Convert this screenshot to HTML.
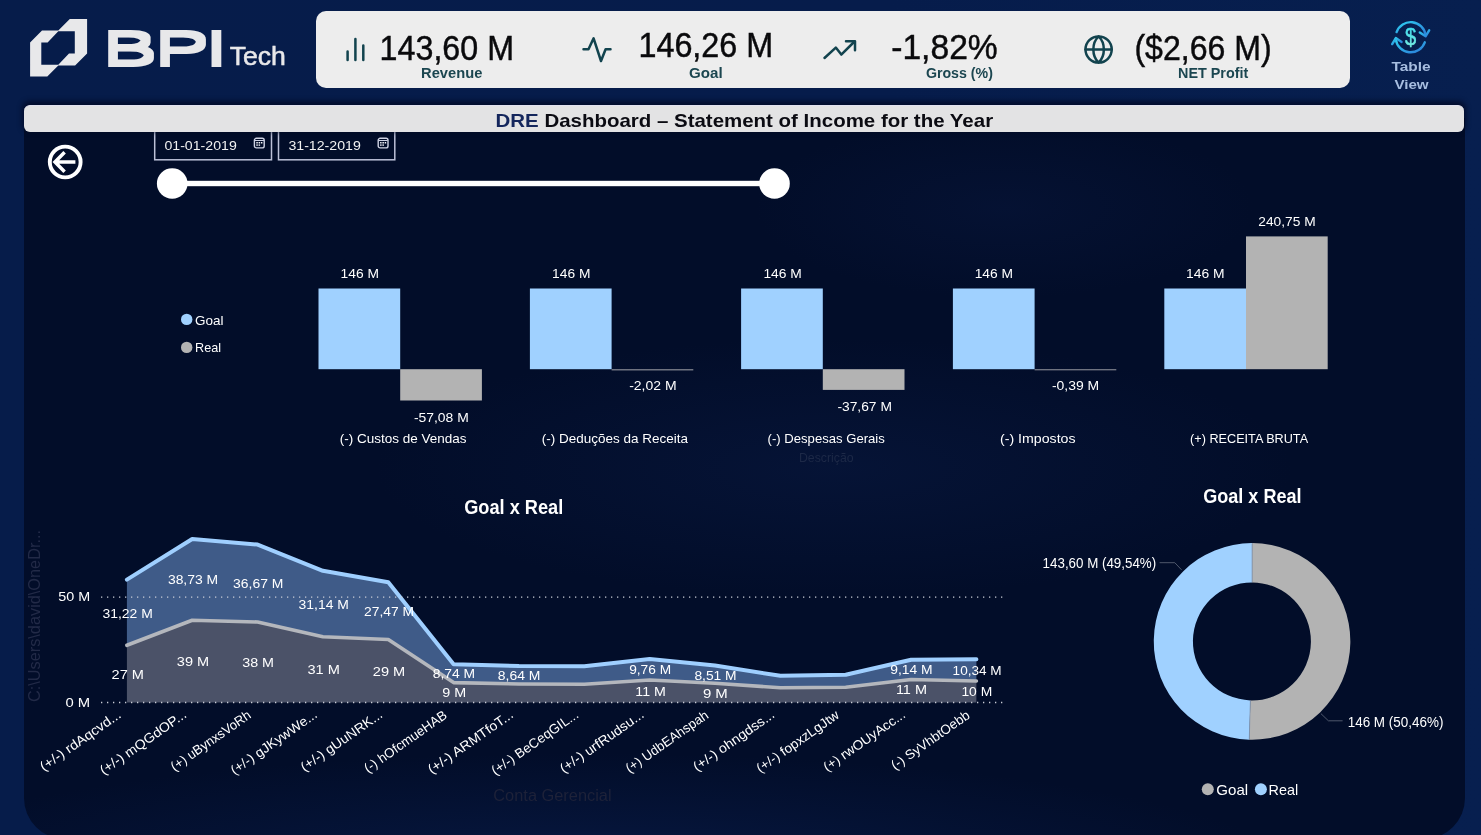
<!DOCTYPE html>
<html lang="pt-BR">
<head>
<meta charset="utf-8">
<title>DRE Dashboard – Statement of Income for the Year</title>
<style>
*{box-sizing:border-box;margin:0;padding:0}
html,body{width:1481px;height:835px;overflow:hidden}
body{position:relative;background:linear-gradient(90deg,#061c4a 0%,#061c4b 60%,#071f4f 100%);font-family:"Liberation Sans",sans-serif;color:#fff}
svg{position:absolute;left:0;top:0;overflow:visible}
svg text{font-family:"Liberation Sans",sans-serif;white-space:pre}
.abs{position:absolute}
#panel{left:24px;top:118px;width:1441px;height:721px;border-radius:0 0 41px 41px;background:radial-gradient(ellipse 720px 125px at 560px 760px,rgba(18,48,116,.6) 0%,rgba(12,36,92,.3) 40%,rgba(8,26,70,0) 100%),radial-gradient(ellipse 460px 130px at 810px 350px,rgba(16,38,92,.26) 0%,rgba(10,28,72,0) 100%),radial-gradient(ellipse 250px 90px at 980px 90px,rgba(14,32,80,.25) 0%,rgba(10,28,72,0) 100%),#020d29}
#kpis{left:316px;top:11px;width:1034px;height:77px;border-radius:10px;background:#ededed}
#titlebar{z-index:5;left:24px;top:105px;width:1440px;height:27px;border-radius:6px;background:#e3e3e4;border-top:1px solid #e2e2f0;box-shadow:0 -2px 5px 2px rgba(2,10,38,.8)}
</style>
</head>
<body>

<header class="abs" id="brand" style="left:0;top:0;width:316px;height:100px">
<svg width="316" height="100" viewBox="0 0 316 100">
<path fill="#e8e8ea" fill-rule="evenodd" d="M30.1 42.6 L42 30.6 L58.3 30.6 L69.8 19.1 L87.1 19.1 L87.1 53.6 L75.1 65.6 L58.3 65.6 L47.3 76.6 L30.1 76.6 Z M41.3 42.4 L47.6 42.4 L58.3 31.3 L74.8 31.3 L74.8 53.6 L69 53.6 L58.3 64.8 L41.3 64.8 Z"/>
<defs><filter id="fat" x="-5%" y="-10%" width="110%" height="120%"><feMorphology operator="dilate" radius="1 2"/></filter></defs>
<g id="bpi" filter="url(#fat)" fill="#e8e8ea"><text transform="translate(102.4,64.8) scale(1.74,1)" font-size="47.2"><tspan x="0">B</tspan><tspan x="30.0">P</tspan><tspan x="58.9">I</tspan></text></g>
<text x="229.7" y="65.2" font-size="25.5" textLength="56.2" lengthAdjust="spacingAndGlyphs" fill="#e8e8ea" stroke="#e8e8ea" stroke-width="0.5">Tech</text>
</svg></header>
<section class="abs" id="kpis">
<svg width="1034" height="77" viewBox="316 11 1034 77">
<g stroke="#12434e" stroke-width="2.5" stroke-linecap="round" fill="none">
<path d="M347.6 51.5V60 M355.4 39V60 M363.3 45.5V60"/>
<path d="M583.5 49.2H588.5L593.6 38.3L601 61L605.6 49.2H610.5" stroke-linejoin="round"/>
<path d="M824.5 58L835.8 47.6L841.3 54.6L854 42" stroke-linejoin="round"/><path d="M846 41.2H855V50.3" stroke-linejoin="round"/>
<circle cx="1098.6" cy="49.5" r="13.1"/><path d="M1085.5 49.5H1111.7"/><path d="M1098.6 36.4C1105.6 43 1105.6 56 1098.6 62.6C1091.6 56 1091.6 43 1098.6 36.4Z" stroke-linejoin="round"/>
</g>
<text x="379.6" y="59.9" font-size="35.6" textLength="134.4" lengthAdjust="spacingAndGlyphs" fill="#0a0a0c" stroke="#0a0a0c" stroke-width="0.45">143,60 M</text>
<text x="638.4" y="56.5" font-size="35.6" textLength="134.9" lengthAdjust="spacingAndGlyphs" fill="#0a0a0c" stroke="#0a0a0c" stroke-width="0.45">146,26 M</text>
<text x="891.2" y="59.0" font-size="35.6" textLength="106.6" lengthAdjust="spacingAndGlyphs" fill="#0a0a0c" stroke="#0a0a0c" stroke-width="0.45">-1,82%</text>
<text x="1134.4" y="59.5" font-size="35.6" textLength="137.2" lengthAdjust="spacingAndGlyphs" fill="#0a0a0c" stroke="#0a0a0c" stroke-width="0.45">($2,66 M)</text>
<text x="421.1" y="78.4" font-size="14" textLength="61.2" lengthAdjust="spacingAndGlyphs" fill="#1b4650" font-weight="700">Revenue</text>
<text x="689.0" y="78.4" font-size="14" textLength="33.6" lengthAdjust="spacingAndGlyphs" fill="#1b4650" font-weight="700">Goal</text>
<text x="925.9" y="78.4" font-size="14" textLength="67.0" lengthAdjust="spacingAndGlyphs" fill="#1b4650" font-weight="700">Gross (%)</text>
<text x="1178.1" y="78.4" font-size="14" textLength="70.2" lengthAdjust="spacingAndGlyphs" fill="#1b4650" font-weight="700">NET Profit</text>
</svg></section>
<nav class="abs" id="tableview" style="left:1370px;top:5px;width:90px;height:95px">
<svg width="90" height="95" viewBox="1370 5 90 95">
<defs><linearGradient id="gr" x1="0" y1="0" x2="1" y2="1"><stop offset="0" stop-color="#2fd0f0"/><stop offset="1" stop-color="#2b7bd8"/></linearGradient><linearGradient id="gd" x1="0" y1="0" x2="0" y2="1"><stop offset="0" stop-color="#35d6ee"/><stop offset="1" stop-color="#7ff0e0"/></linearGradient></defs>
<g fill="none" stroke="url(#gr)" stroke-width="2.4" stroke-linecap="round" stroke-linejoin="round">
<path d="M1396.6 32.1A15.0 15.0 0 0 1 1425.6 35.1"/>
<path d="M1424.8 42.3A15.0 15.0 0 0 1 1395.8 39.3"/>
<path d="M1419.8 32.5L1425.6 36.3L1429.2 30.3"/>
<path d="M1401.6 41.9L1395.8 38.1L1392.2 44.1"/>
</g>
<text x="1405.1" y="45.2" font-size="24" textLength="11.2" lengthAdjust="spacingAndGlyphs" fill="url(#gd)" stroke="url(#gd)" stroke-width="0.5">$</text>
<text x="1391.4" y="70.6" font-size="13" textLength="39.2" lengthAdjust="spacingAndGlyphs" fill="#a7bee0" font-weight="700">Table</text>
<text x="1394.4" y="88.8" font-size="13" textLength="34.2" lengthAdjust="spacingAndGlyphs" fill="#a7bee0" font-weight="700">View</text>
</svg></nav>
<main class="abs" id="panel"></main>
<div class="abs" id="titlebar"></div>
<svg id="titletext" style="z-index:6" width="1481" height="140" viewBox="0 0 1481 140">
<text x="495.5" y="126.6" font-size="19" font-weight="700" textLength="497.6" lengthAdjust="spacingAndGlyphs" fill="#0b0b12"><tspan fill="#14265c">DRE</tspan> Dashboard – Statement of Income for the Year</text>
</svg>
<section class="abs" id="slicer" style="left:40px;top:132px;width:760px;height:75px">
<svg width="760" height="75" viewBox="40 132 760 75">
<circle cx="65.2" cy="162" r="15.4" fill="none" stroke="#fff" stroke-width="3.9"/>
<path d="M75.4 162H56.5M64.6 152.3L55 162L64.6 171.7" fill="none" stroke="#fff" stroke-width="3.5" stroke-linecap="butt" stroke-linejoin="miter"/>
<rect x="154.7" y="128" width="116.8" height="31.8" fill="none" stroke="#bcc1d8" stroke-width="1.5"/>
<rect x="278.5" y="128" width="116.3" height="31.8" fill="none" stroke="#bcc1d8" stroke-width="1.5"/>
<text x="164.4" y="149.6" font-size="13.3" textLength="72.4" lengthAdjust="spacingAndGlyphs" fill="#f2f2f2">01-01-2019</text>
<text x="288.4" y="149.6" font-size="13.3" textLength="72.4" lengthAdjust="spacingAndGlyphs" fill="#f2f2f2">31-12-2019</text>
<g transform="translate(253.7,137.6)"><rect x="0.7" y="0.7" width="9.8" height="9.6" rx="2" fill="none" stroke="#cfd3e4" stroke-width="1.4"/><path d="M1 2.9H10.2" stroke="#cfd3e4" stroke-width="1" fill="none"/><g fill="#f4f5fa"><rect x="2.6" y="4.4" width="1.5" height="1.5"/><rect x="4.9" y="4.4" width="1.5" height="1.5"/><rect x="7.2" y="4.4" width="1.5" height="1.5"/><rect x="2.6" y="6.8" width="1.5" height="1.4"/><rect x="4.9" y="6.8" width="1.5" height="1.4"/></g></g>
<g transform="translate(377.5,137.6)"><rect x="0.7" y="0.7" width="9.8" height="9.6" rx="2" fill="none" stroke="#cfd3e4" stroke-width="1.4"/><path d="M1 2.9H10.2" stroke="#cfd3e4" stroke-width="1" fill="none"/><g fill="#f4f5fa"><rect x="2.6" y="4.4" width="1.5" height="1.5"/><rect x="4.9" y="4.4" width="1.5" height="1.5"/><rect x="7.2" y="4.4" width="1.5" height="1.5"/><rect x="2.6" y="6.8" width="1.5" height="1.4"/><rect x="4.9" y="6.8" width="1.5" height="1.4"/></g></g>
<rect x="172" y="180.8" width="602" height="5.4" fill="#fff"/>
<circle cx="172.2" cy="183.5" r="15.3" fill="#fff"/><circle cx="774.5" cy="183.5" r="15.3" fill="#fff"/>
</svg></section>
<section class="abs" id="barchart" style="left:160px;top:205px;width:1200px;height:265px">
<svg width="1200" height="265" viewBox="160 205 1200 265">
<circle cx="186.7" cy="319.4" r="5.7" fill="#a0d1ff"/>
<text x="195.0" y="324.7" font-size="13.3" textLength="28.5" lengthAdjust="spacingAndGlyphs" fill="#fff">Goal</text>
<circle cx="186.7" cy="347.4" r="5.7" fill="#b3b3b3"/>
<text x="195.0" y="352.0" font-size="13.3" textLength="26.0" lengthAdjust="spacingAndGlyphs" fill="#fff">Real</text>
<rect x="318.5" y="288.5" width="81.7" height="80.7" fill="#a0d1ff"/>
<rect x="400.2" y="369.2" width="81.7" height="31.3" fill="#b3b3b3"/>
<text x="340.6" y="277.8" font-size="13.3" textLength="38.4" lengthAdjust="spacingAndGlyphs" fill="#fff">146 M</text>
<text x="413.9" y="421.5" font-size="13.3" textLength="54.9" lengthAdjust="spacingAndGlyphs" fill="#fff">-57,08 M</text>
<text x="339.7" y="443.0" font-size="13.3" textLength="126.9" lengthAdjust="spacingAndGlyphs" fill="#fff">(-) Custos de Vendas</text>
<rect x="529.9" y="288.5" width="81.7" height="80.7" fill="#a0d1ff"/>
<rect x="611.6" y="369.2" width="81.7" height="1.2" fill="#8a8d96"/>
<text x="552.1" y="277.8" font-size="13.3" textLength="38.3" lengthAdjust="spacingAndGlyphs" fill="#fff">146 M</text>
<text x="629.2" y="390.4" font-size="13.3" textLength="47.4" lengthAdjust="spacingAndGlyphs" fill="#fff">-2,02 M</text>
<text x="541.8" y="443.0" font-size="13.3" textLength="146.1" lengthAdjust="spacingAndGlyphs" fill="#fff">(-) Deduções da Receita</text>
<rect x="741.1" y="288.5" width="81.7" height="80.7" fill="#a0d1ff"/>
<rect x="822.8" y="369.2" width="81.7" height="20.7" fill="#b3b3b3"/>
<text x="763.4" y="277.8" font-size="13.3" textLength="38.4" lengthAdjust="spacingAndGlyphs" fill="#fff">146 M</text>
<text x="837.4" y="410.5" font-size="13.3" textLength="54.5" lengthAdjust="spacingAndGlyphs" fill="#fff">-37,67 M</text>
<text x="767.6" y="443.0" font-size="13.3" textLength="117.2" lengthAdjust="spacingAndGlyphs" fill="#fff">(-) Despesas Gerais</text>
<rect x="952.9" y="288.5" width="81.7" height="80.7" fill="#a0d1ff"/>
<rect x="1034.6" y="369.2" width="81.7" height="1.1" fill="#8a8d96"/>
<text x="974.7" y="277.8" font-size="13.3" textLength="38.4" lengthAdjust="spacingAndGlyphs" fill="#fff">146 M</text>
<text x="1051.9" y="390.2" font-size="13.3" textLength="47.3" lengthAdjust="spacingAndGlyphs" fill="#fff">-0,39 M</text>
<text x="1000.0" y="443.0" font-size="13.3" textLength="75.6" lengthAdjust="spacingAndGlyphs" fill="#fff">(-) Impostos</text>
<rect x="1164.3" y="288.5" width="81.7" height="80.7" fill="#a0d1ff"/>
<rect x="1246.0" y="236.4" width="81.7" height="132.8" fill="#b3b3b3"/>
<text x="1186.1" y="277.8" font-size="13.3" textLength="38.5" lengthAdjust="spacingAndGlyphs" fill="#fff">146 M</text>
<text x="1258.3" y="225.5" font-size="13.3" textLength="57.3" lengthAdjust="spacingAndGlyphs" fill="#fff">240,75 M</text>
<text x="1190.1" y="443.0" font-size="13.3" textLength="118.0" lengthAdjust="spacingAndGlyphs" fill="#fff">(+) RECEITA BRUTA</text>
<text x="799.0" y="461.8" font-size="12" textLength="54.6" lengthAdjust="spacingAndGlyphs" fill="#1d2947">Descrição</text>
</svg></section>
<section class="abs" id="areachart" style="left:24px;top:480px;width:1000px;height:340px">
<svg width="1000" height="340" viewBox="24 480 1000 340">
<text x="464.2" y="514.4" font-size="20" textLength="99.0" lengthAdjust="spacingAndGlyphs" fill="#fff" font-weight="700">Goal x Real</text>
<polygon points="126.9,579.6 192.2,539.0 257.6,544.6 322.9,570.8 388.3,582.3 453.6,664.2 519.0,666.0 584.3,666.3 649.7,659.1 715.0,665.5 780.4,675.8 845.7,674.8 911.1,659.8 976.4,659.3 976.4,681.0 911.1,679.5 845.7,687.3 780.4,687.7 715.0,683.3 649.7,680.0 584.3,684.3 519.0,684.0 453.6,682.6 388.3,639.5 322.9,636.8 257.6,622.0 192.2,620.2 126.9,645.3" fill="#3f5b88"/>
<polygon points="126.9,645.3 192.2,620.2 257.6,622.0 322.9,636.8 388.3,639.5 453.6,682.6 519.0,684.0 584.3,684.3 649.7,680.0 715.0,683.3 780.4,687.7 845.7,687.3 911.1,679.5 976.4,681.0 976.4,702.5 126.9,702.5" fill="#4b5268"/>
<polyline points="126.9,645.3 192.2,620.2 257.6,622.0 322.9,636.8 388.3,639.5 453.6,682.6 519.0,684.0 584.3,684.3 649.7,680.0 715.0,683.3 780.4,687.7 845.7,687.3 911.1,679.5 976.4,681.0" fill="none" stroke="#b4b7bd" stroke-width="3.6" stroke-linejoin="round" stroke-linecap="round"/>
<polyline points="126.9,579.6 192.2,539.0 257.6,544.6 322.9,570.8 388.3,582.3 453.6,664.2 519.0,666.0 584.3,666.3 649.7,659.1 715.0,665.5 780.4,675.8 845.7,674.8 911.1,659.8 976.4,659.3" fill="none" stroke="#9fcfff" stroke-width="4" stroke-linejoin="round" stroke-linecap="round"/>
<line x1="101" y1="597.1" x2="1004" y2="597.1" stroke="#c9ccd6" stroke-width="1.3" stroke-dasharray="1.3 4.7"/>
<line x1="101" y1="702.5" x2="1004" y2="702.5" stroke="#c9ccd6" stroke-width="1.3" stroke-dasharray="1.3 4.7"/>
<text x="58.2" y="601.4" font-size="13.3" textLength="31.9" lengthAdjust="spacingAndGlyphs" fill="#fff">50 M</text>
<text x="65.4" y="706.8" font-size="13.3" textLength="24.7" lengthAdjust="spacingAndGlyphs" fill="#fff">0 M</text>
<text x="102.5" y="617.5" font-size="13.3" textLength="50.3" lengthAdjust="spacingAndGlyphs" fill="#fff">31,22 M</text>
<text x="167.9" y="583.5" font-size="13.3" textLength="50.3" lengthAdjust="spacingAndGlyphs" fill="#fff">38,73 M</text>
<text x="233.1" y="587.8" font-size="13.3" textLength="50.3" lengthAdjust="spacingAndGlyphs" fill="#fff">36,67 M</text>
<text x="298.6" y="608.6" font-size="13.3" textLength="50.3" lengthAdjust="spacingAndGlyphs" fill="#fff">31,14 M</text>
<text x="364.0" y="615.8" font-size="13.3" textLength="50.0" lengthAdjust="spacingAndGlyphs" fill="#fff">27,47 M</text>
<text x="432.7" y="678.1" font-size="13.3" textLength="42.4" lengthAdjust="spacingAndGlyphs" fill="#fff">8,74 M</text>
<text x="497.8" y="679.8" font-size="13.3" textLength="42.7" lengthAdjust="spacingAndGlyphs" fill="#fff">8,64 M</text>
<text x="629.2" y="673.9" font-size="13.3" textLength="41.9" lengthAdjust="spacingAndGlyphs" fill="#fff">9,76 M</text>
<text x="694.4" y="679.9" font-size="13.3" textLength="42.2" lengthAdjust="spacingAndGlyphs" fill="#fff">8,51 M</text>
<text x="890.2" y="673.9" font-size="13.3" textLength="42.4" lengthAdjust="spacingAndGlyphs" fill="#fff">9,14 M</text>
<text x="952.6" y="674.8" font-size="13.3" textLength="49.0" lengthAdjust="spacingAndGlyphs" fill="#fff">10,34 M</text>
<text x="111.6" y="678.6" font-size="13.3" textLength="32.4" lengthAdjust="spacingAndGlyphs" fill="#fff">27 M</text>
<text x="176.8" y="665.6" font-size="13.3" textLength="32.3" lengthAdjust="spacingAndGlyphs" fill="#fff">39 M</text>
<text x="242.2" y="666.6" font-size="13.3" textLength="31.8" lengthAdjust="spacingAndGlyphs" fill="#fff">38 M</text>
<text x="307.4" y="673.8" font-size="13.3" textLength="32.4" lengthAdjust="spacingAndGlyphs" fill="#fff">31 M</text>
<text x="372.8" y="675.7" font-size="13.3" textLength="32.4" lengthAdjust="spacingAndGlyphs" fill="#fff">29 M</text>
<text x="442.3" y="696.5" font-size="13.3" textLength="23.9" lengthAdjust="spacingAndGlyphs" fill="#fff">9 M</text>
<text x="635.3" y="695.6" font-size="13.3" textLength="30.5" lengthAdjust="spacingAndGlyphs" fill="#fff">11 M</text>
<text x="702.9" y="697.5" font-size="13.3" textLength="24.9" lengthAdjust="spacingAndGlyphs" fill="#fff">9 M</text>
<text x="895.9" y="694.3" font-size="13.3" textLength="31.1" lengthAdjust="spacingAndGlyphs" fill="#fff">11 M</text>
<text x="961.4" y="695.6" font-size="13.3" textLength="30.8" lengthAdjust="spacingAndGlyphs" fill="#fff">10 M</text>
<text transform="translate(122.1,716.6) rotate(-35)" x="-95.5" y="0" font-size="13.33" textLength="95.5" lengthAdjust="spacingAndGlyphs" fill="#fff">(+/-) rdAqcvd...</text>
<text transform="translate(187.5,716.6) rotate(-35)" x="-102.3" y="0" font-size="13.33" textLength="102.3" lengthAdjust="spacingAndGlyphs" fill="#fff">(+/-) mQGdOP...</text>
<text transform="translate(252.0,717.2) rotate(-35)" x="-94.5" y="0" font-size="13.33" textLength="94.5" lengthAdjust="spacingAndGlyphs" fill="#fff">(+) uBynxsVoRh</text>
<text transform="translate(318.1,716.6) rotate(-35)" x="-102.1" y="0" font-size="13.33" textLength="102.1" lengthAdjust="spacingAndGlyphs" fill="#fff">(+/-) gJKywWe...</text>
<text transform="translate(383.5,716.6) rotate(-35)" x="-96.4" y="0" font-size="13.33" textLength="96.4" lengthAdjust="spacingAndGlyphs" fill="#fff">(+/-) gUuNRK...</text>
<text transform="translate(448.0,717.2) rotate(-35)" x="-97.8" y="0" font-size="13.33" textLength="97.8" lengthAdjust="spacingAndGlyphs" fill="#fff">(-) hOfcmueHAB</text>
<text transform="translate(514.2,716.6) rotate(-35)" x="-100.7" y="0" font-size="13.33" textLength="100.7" lengthAdjust="spacingAndGlyphs" fill="#fff">(+/-) ARMTfoT...</text>
<text transform="translate(579.5,716.6) rotate(-35)" x="-102.9" y="0" font-size="13.33" textLength="102.9" lengthAdjust="spacingAndGlyphs" fill="#fff">(+/-) BeCeqGIL...</text>
<text transform="translate(644.9,716.6) rotate(-35)" x="-99.1" y="0" font-size="13.33" textLength="99.1" lengthAdjust="spacingAndGlyphs" fill="#fff">(+/-) urfRudsu...</text>
<text transform="translate(709.4,717.2) rotate(-35)" x="-97.6" y="0" font-size="13.33" textLength="97.6" lengthAdjust="spacingAndGlyphs" fill="#fff">(+) UdbEAhspah</text>
<text transform="translate(775.6,716.6) rotate(-35)" x="-96.0" y="0" font-size="13.33" textLength="96.0" lengthAdjust="spacingAndGlyphs" fill="#fff">(+/-) ohngdss...</text>
<text transform="translate(840.1,717.2) rotate(-35)" x="-97.6" y="0" font-size="13.33" textLength="97.6" lengthAdjust="spacingAndGlyphs" fill="#fff">(+/-) fopxzLgJtw</text>
<text transform="translate(906.3,716.6) rotate(-35)" x="-96.4" y="0" font-size="13.33" textLength="96.4" lengthAdjust="spacingAndGlyphs" fill="#fff">(+) rwOUyAcc...</text>
<text transform="translate(970.8,717.2) rotate(-35)" x="-92.6" y="0" font-size="13.33" textLength="92.6" lengthAdjust="spacingAndGlyphs" fill="#fff">(-) SyVhbtOebb</text>
<text x="493.3" y="801.0" font-size="16" textLength="118.3" lengthAdjust="spacingAndGlyphs" fill="#1e2239">Conta Gerencial</text>
<text transform="translate(39.5,702) rotate(-90)" x="0" y="0" font-size="16" textLength="172" lengthAdjust="spacingAndGlyphs" fill="#222a47">C:\Users\david\OneDr...</text>
</svg></section>
<section class="abs" id="donut" style="left:1030px;top:480px;width:430px;height:340px">
<svg width="430" height="340" viewBox="1030 480 430 340">
<text x="1203.2" y="503.4" font-size="20" textLength="98.4" lengthAdjust="spacingAndGlyphs" fill="#fff" font-weight="700">Goal x Real</text>
<path d="M1252.1 543.1A98.3 98.3 0 1 1 1249.26 739.66L1250.39 700.38A59 59 0 1 0 1252.1 582.4Z" fill="#b3b3b3"/>
<path d="M1249.26 739.66A98.3 98.3 0 0 1 1252.1 543.1L1252.1 582.4A59 59 0 0 0 1250.39 700.38Z" fill="#a0d1ff"/>
<path d="M1252.1 543.1V582.4M1249.26 739.66L1250.39 700.38" stroke="#7f8fa8" stroke-width="0.7" fill="none"/>
<path d="M1159.6 562.7H1174.8L1181.5 569.8" stroke="#4f586c" stroke-width="1" fill="none"/>
<path d="M1320.9 713.6L1328.4 720.8H1342.6" stroke="#4f586c" stroke-width="1" fill="none"/>
<text x="1042.6" y="568.2" font-size="13.8" textLength="113.6" lengthAdjust="spacingAndGlyphs" fill="#fff">143,60 M (49,54%)</text>
<text x="1347.7" y="726.9" font-size="13.8" textLength="95.7" lengthAdjust="spacingAndGlyphs" fill="#fff">146 M (50,46%)</text>
<circle cx="1207.8" cy="789.3" r="6" fill="#b3b3b3"/>
<text x="1216.3" y="794.6" font-size="15" textLength="31.8" lengthAdjust="spacingAndGlyphs" fill="#fff">Goal</text>
<circle cx="1260.9" cy="789.3" r="6" fill="#a0d1ff"/>
<text x="1268.6" y="794.6" font-size="15" textLength="29.6" lengthAdjust="spacingAndGlyphs" fill="#fff">Real</text>
</svg></section>
</body></html>
